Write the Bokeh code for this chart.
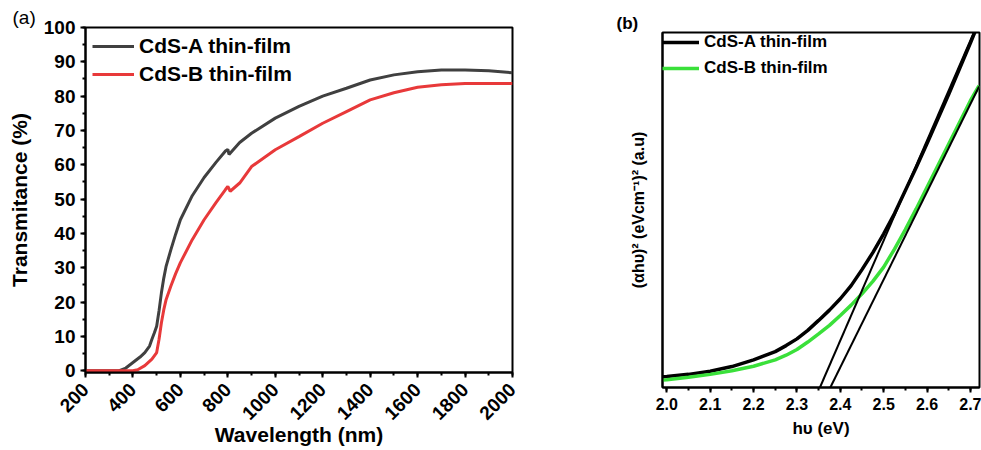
import math
from bokeh.plotting import figure
from bokeh.layouts import row
from bokeh.models import Title, Range1d, SingleIntervalTicker, FixedTicker, Spacer, PrintfTickFormatter
from bokeh.embed import file_html
from bokeh.resources import INLINE

# ---------------- data: panel (a) transmittance ----------------
wl_a = [200, 300, 340, 370, 400, 430, 450, 470, 480, 490, 500, 510, 520, 530, 540, 560, 580, 600, 650,
        700, 750, 790, 800, 805, 850, 900, 1000, 1100, 1200, 1300, 1400, 1500, 1600, 1700, 1800, 1900, 2000]
t_a = [0, 0, 0, 0.8, 2.4, 4.0, 5.3, 7.2, 9.2, 11.0, 13.0, 17.5, 22.7, 27.0, 30.5, 35.3, 39.8, 44.0, 51.0,
       56.3, 60.7, 64.0, 64.5, 63.0, 66.5, 69.2, 73.6, 77.0, 80.0, 82.3, 84.7, 86.2, 87.1, 87.6, 87.6, 87.4, 86.8]

wl_b = [200, 300, 400, 420, 450, 480, 500, 510, 520, 530, 540, 560, 580, 600, 650, 700, 750, 790, 800,
        810, 850, 900, 1000, 1100, 1200, 1300, 1400, 1500, 1600, 1700, 1800, 1900, 2000]
t_b = [0, 0, 0, 0.3, 1.5, 3.4, 5.3, 9.2, 14.0, 17.8, 20.8, 24.7, 28.3, 31.5, 38.2, 44.0, 49.0, 52.8, 53.7,
       52.3, 54.7, 59.5, 64.4, 68.2, 72.1, 75.5, 78.9, 81.0, 82.6, 83.3, 83.7, 83.7, 83.7]

# ---------------- data: panel (b) Tauc plot ----------------
hv = [1.99, 2.0, 2.05, 2.1, 2.15, 2.2, 2.25, 2.275, 2.3, 2.325, 2.35, 2.375, 2.4, 2.425, 2.45, 2.475,
      2.5, 2.525, 2.55, 2.575, 2.6, 2.65, 2.7, 2.72]
tauc_a = [0.030, 0.031, 0.037, 0.046, 0.059, 0.078, 0.101, 0.118, 0.137, 0.161, 0.189, 0.218, 0.25, 0.287,
          0.332, 0.38, 0.433, 0.49, 0.555, 0.62, 0.687, 0.826, 0.97, 1.03]
tauc_b = [0.021, 0.022, 0.029, 0.037, 0.047, 0.060, 0.078, 0.091, 0.107, 0.128, 0.151, 0.175, 0.203, 0.232,
          0.264, 0.299, 0.339, 0.39, 0.445, 0.503, 0.564, 0.686, 0.808, 0.85]
fit_a_x = [2.353, 2.708]
fit_a_y = [0.0, 1.0]
fit_b_x = [2.377, 2.72]
fit_b_y = [0.0, 0.848]

FONT = "Liberation Sans"
GRAY = "#404040"
RED = "#e8393a"
GREEN = "#3ae03a"


def style_axes(p, tick_size, lab_size):
    for ax in (p.xaxis[0], p.yaxis[0]):
        ax.axis_line_width = 2
        ax.axis_line_color = "black"
        ax.major_tick_line_width = 2
        ax.minor_tick_line_width = 2
        ax.major_tick_in = 0
        ax.major_tick_out = 5
        ax.minor_tick_in = 0
        ax.minor_tick_out = 3
        ax.major_label_text_font = FONT
        ax.major_label_text_font_style = "bold"
        ax.major_label_text_font_size = tick_size
        ax.major_label_text_color = "black"
        ax.axis_label_text_font = FONT
        ax.axis_label_text_font_style = "bold"
        ax.axis_label_text_font_size = lab_size
        ax.axis_label_text_color = "black"
    p.grid.visible = False
    p.outline_line_color = "black"
    p.outline_line_width = 2


def style_legend(p, size, gw, gh, margin, padding, spacing):
    lg = p.legend[0]
    lg.location = "top_left"
    lg.margin = margin
    lg.padding = padding
    lg.spacing = spacing
    lg.glyph_width = gw
    lg.glyph_height = gh
    lg.label_height = gh
    lg.label_standoff = 5
    lg.label_text_font = FONT
    lg.label_text_font_style = "bold"
    lg.label_text_font_size = size
    lg.label_text_color = "black"
    lg.border_line_color = None
    lg.background_fill_alpha = 0


# ---------------- panel (a) ----------------
pa = figure(width=545, height=450, output_backend="svg", toolbar_location=None,
            x_range=Range1d(200, 2000), y_range=Range1d(-0.5, 100),
            min_border_left=85, min_border_right=33, min_border_top=27, min_border_bottom=78)
pa.frame_align = False
pa.line(wl_a, t_a, line_color=GRAY, line_width=3, legend_label="CdS-A thin-film")
pa.line(wl_b, t_b, line_color=RED, line_width=3, legend_label="CdS-B thin-film")
style_axes(pa, "19px", "21px")
pa.xaxis.ticker = SingleIntervalTicker(interval=200, num_minor_ticks=2)
pa.yaxis.ticker = SingleIntervalTicker(interval=10, num_minor_ticks=2)
pa.xaxis.major_label_orientation = math.pi / 4
pa.xaxis.axis_label = "Wavelength (nm)"
pa.yaxis.axis_label = "Transmitance (%)"
pa.yaxis.major_label_standoff = 5
pa.yaxis.axis_label_standoff = 10
pa.xaxis.major_label_standoff = 9
pa.xaxis.axis_label_standoff = -6
style_legend(pa, "21px", 42, 20, 7, 6, 4)
pa.add_layout(Title(text="(a)", text_font=FONT, text_font_size="19px", text_font_style="normal",
                    text_color="black", align="left", offset=-73, standoff=0), "above")

# ---------------- panel (b) ----------------
pb = figure(width=391, height=450, output_backend="svg", toolbar_location=None,
            x_range=Range1d(1.99, 2.721), y_range=Range1d(0, 1),
            min_border_left=72, min_border_right=2, min_border_top=32, min_border_bottom=63)
pb.frame_align = False
pb.line(hv, tauc_a, line_color="black", line_width=3.5, legend_label="CdS-A thin-film")
pb.line(hv, tauc_b, line_color=GREEN, line_width=3.5, legend_label="CdS-B thin-film")
pb.line(fit_a_x, fit_a_y, line_color="black", line_width=2)
pb.line(fit_b_x, fit_b_y, line_color="black", line_width=2)
style_axes(pb, "16px", "17px")
pb.xaxis.ticker = SingleIntervalTicker(interval=0.1, num_minor_ticks=2)
pb.xaxis.formatter = PrintfTickFormatter(format="%.1f")
pb.yaxis.ticker = FixedTicker(ticks=[])
pb.yaxis.major_tick_out = 0
pb.yaxis.minor_tick_out = 0
pb.yaxis.axis_label = "(αhυ)² (eVcm⁻¹)² (a.u)"
pb.yaxis.axis_label_text_font_size = "16px"
pb.yaxis.axis_label_standoff = 16
pb.xaxis.axis_label = "hυ (eV)"
pb.xaxis.major_label_standoff = 5
pb.xaxis.axis_label_standoff = 6
style_legend(pb, "17px", 37, 16, 0, 6, 6)
pb.add_layout(Title(text="(b)", text_font=FONT, text_font_size="17px", text_font_style="bold",
                    text_color="black", align="left", offset=-46, standoff=0), "above")

layout = row(pa, Spacer(width=45, height=450), pb)
open("out.html", "w").write(file_html(layout, INLINE))
